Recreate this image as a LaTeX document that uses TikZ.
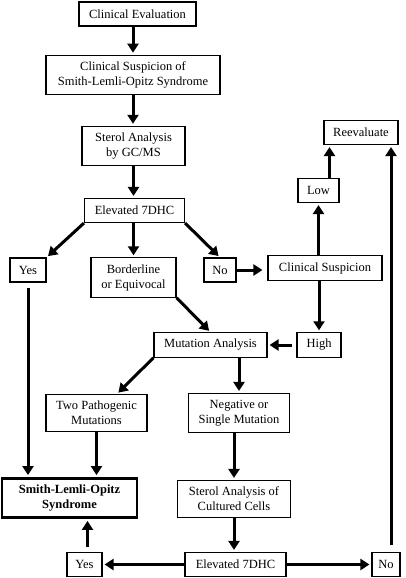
\documentclass[tikz,border=0pt]{standalone}
\usepackage{fontspec}
\setmainfont{Liberation Serif}
\usetikzlibrary{arrows.meta,calc}

\begin{document}
\begin{tikzpicture}[x=1pt,y=-1pt,
        box/.style={
          draw,
          line width=1.1pt,
          align=center,
          inner xsep=6pt,
          inner ysep=6.5pt,
          minimum height=24pt,
          font=\fontsize{12.5}{15}\selectfont
        },
        arr/.style={
          line width=3pt,
          -{Triangle[length=9pt,width=11pt]},
          shorten >=2pt
        }
        ]
        \useasboundingbox (0,0) rectangle (406,578);

        % left column
        \node[box,minimum width=117pt] (eval) at (137.5,14)
          {Clinical Evaluation};
        \node[box,minimum width=174pt] (susp) at (133,75)
          {Clinical Suspicion of\\Smith-Lemli-Opitz Syndrome};
        \node[box,minimum width=103pt] (gcms) at (133.5,146)
          {Sterol Analysis\\by GC/MS};
        \node[box,minimum width=100pt] (elev) at (134.5,210.5)
          {Elevated 7DHC};
        \node[box,minimum width=36pt] (yes) at (28,270)
          {Yes};
        \node[box,minimum width=85pt] (bord) at (133.5,277.5)
          {Borderline\\or Equivocal};
        \node[box,minimum width=32pt] (no) at (220,270)
          {No};

        % right side
        \node[box,minimum width=114pt] (clin) at (325,268)
          {Clinical Suspicion};
        \node[box,minimum width=41pt] (low) at (318.5,190.5)
          {Low};
        \node[box,minimum width=74pt] (reev) at (361,132.5)
          {Reevaluate};
        \node[box,minimum width=113pt] (mut) at (210.5,345)
          {Mutation Analysis};
        \node[box,minimum width=44pt] (high) at (319,345)
          {High};

        % lower part
        \node[box,minimum width=101pt] (two) at (96.5,413)
          {Two Pathogenic\\Mutations};
        \node[box,minimum width=101pt] (neg) at (239,413)
          {Negative or\\Single Mutation};
        \node[box,minimum width=135pt,line width=2.5pt,
              font=\fontsize{12.5}{15}\selectfont\bfseries] (slos) at (69.5,498)
          {Smith-Lemli-Opitz\\Syndrome};
        \node[box,minimum width=113pt] (cult) at (234,499)
          {Sterol Analysis of\\Cultured Cells};
        \node[box,minimum width=35pt] (yes2) at (84.5,564.5)
          {Yes};
        \node[box,minimum width=101pt] (elev2) at (235.5,564.5)
          {Elevated 7DHC};
        \node[box,minimum width=28pt] (no2) at (386,564.5)
          {No};

        \draw[arr] (eval.south -| susp.north) -- (susp.north);
        \draw[arr] (susp.south) -- (susp.south |- gcms.north);
        \draw[arr] (gcms.south) -- (gcms.south |- elev.north);
        \draw[arr] (elev.south west) -- (yes.north east);
        \draw[arr] (elev.south -| bord.north) -- (bord.north);
        \draw[arr] (elev.south east) -- (no.north);
        \draw[arr,shorten >=5pt] (no.east) -- (no.east -| clin.west);
        \draw[arr] (clin.north -| low.south) -- (low.south);
        \draw[arr] ([xshift=11pt]low.north) -- ([xshift=11pt]low.north |- reev.south);
        \draw[arr] (clin.south -| high.north) -- (high.north);
        \draw[arr,shorten <=4pt] (high.west) -- (mut.east);
        \draw[arr] (bord.south east) -- (mut.north);
        \draw[arr] (mut.south west) -- ($(two.north)!0.4!(two.north east)$);
        \draw[arr] (mut.south -| neg.north) -- (neg.north);
        \draw[arr,shorten <=5pt] (yes.south) -- (yes.south |- slos.north);
        \draw[arr] (two.south) -- (two.south |- slos.north);
        \draw[arr] (neg.south -| cult.north) -- (cult.north);
        \draw[arr] (cult.south) -- (cult.south |- elev2.north);
        \draw[arr] (elev2.west) -- (yes2.east);
        \draw[arr] (elev2.east) -- (no2.west);
        \draw[arr,shorten <=5pt] ([xshift=3pt]yes2.north) -- ([xshift=3pt]yes2.north |- slos.south);
        \draw[arr,shorten <=7pt] ([xshift=5pt]no2.north) -- ([xshift=5pt]no2.north |- reev.south);
    \end{tikzpicture}
\end{document}
